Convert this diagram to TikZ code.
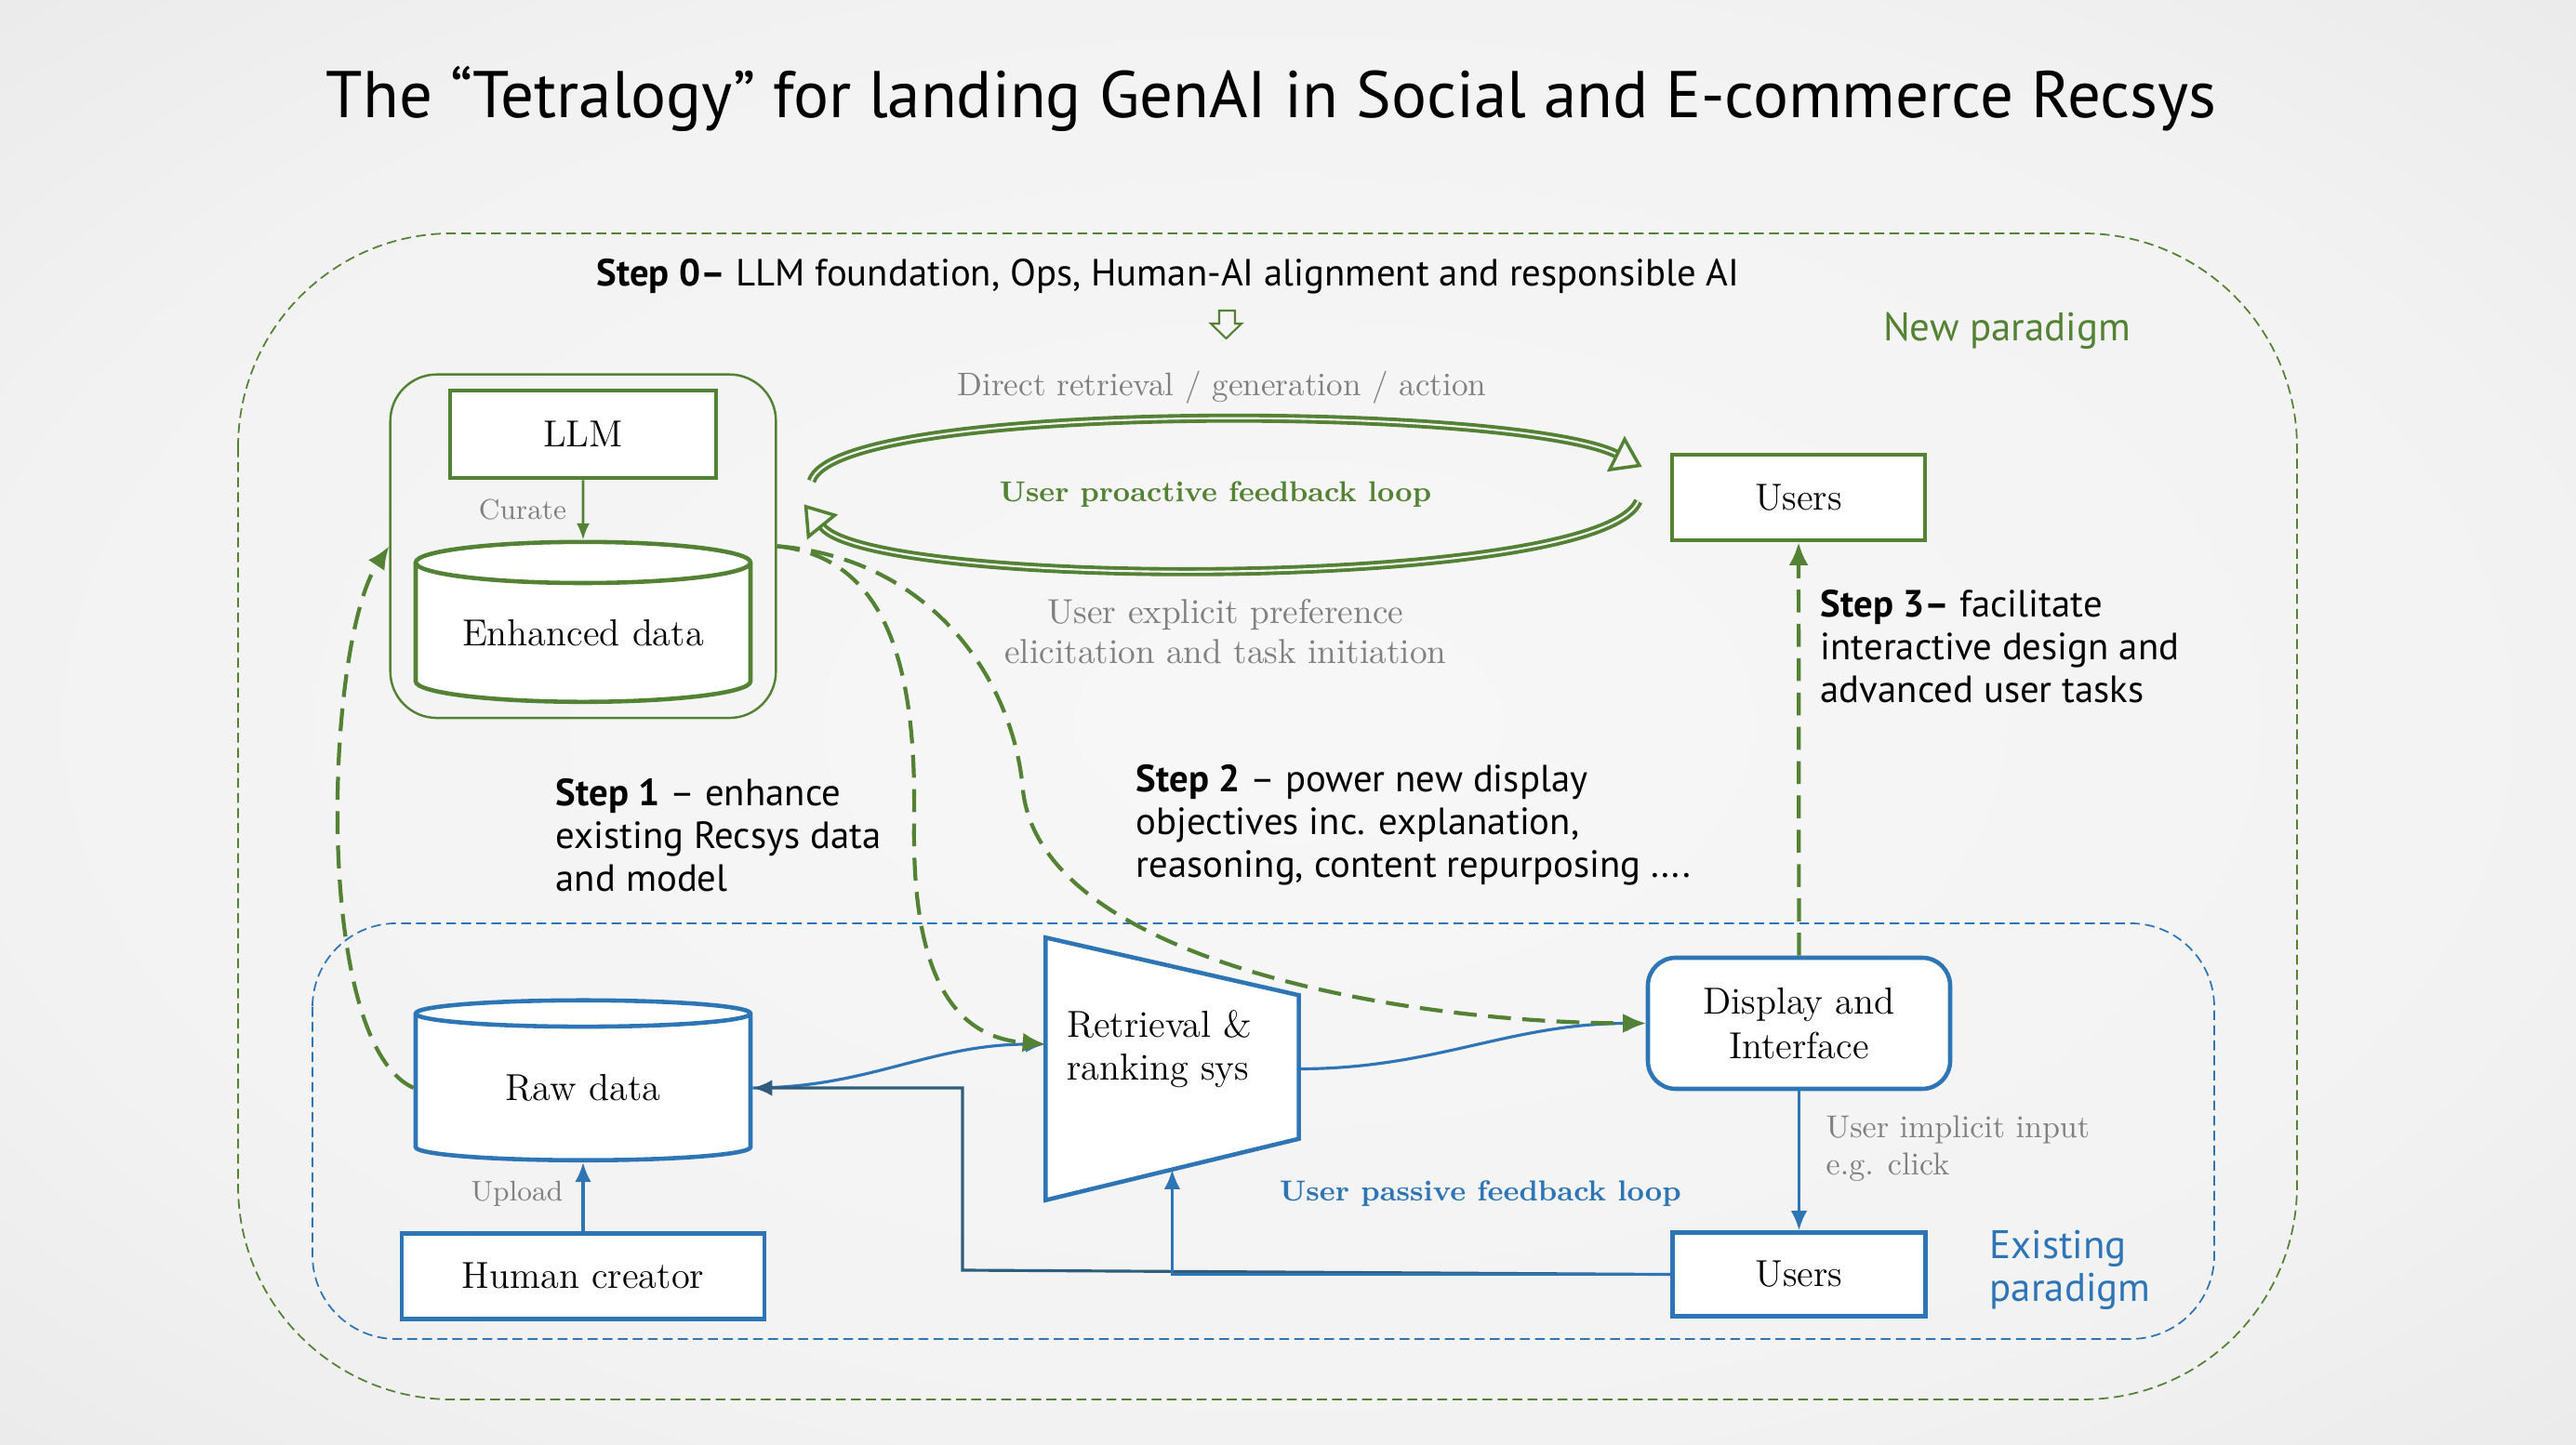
\documentclass[tikz,border=0pt]{standalone}
\usepackage{fontspec}
\newfontfamily\handfont{PT Sans}
\usetikzlibrary{positioning,calc,fit,shapes.geometric,arrows.meta}
\definecolor{Leaf}{HTML}{548235}
\definecolor{Ocean}{HTML}{2E75B6}
\definecolor{Slate}{HTML}{2F5D7E}
\definecolor{Ash}{HTML}{808080}
\pgfdeclareradialshading{backglow}{\pgfpoint{0bp}{0bp}}{color(0bp)=(black!3);
  color(25bp)=(black!5); color(50bp)=(black!12); color(71bp)=(black!17)}
\tikzset{
  recsys box/.style={draw=Leaf,line width=1.3pt,fill=white,minimum width=2.72cm,
    minimum height=.92cm,inner sep=3pt,font=\fontsize{11.5}{13.5}\selectfont},
  recsys db/.style={cylinder,shape border rotate=90,aspect=.17,draw=Ocean,
    line width=1.3pt,fill=white,minimum width=3.6cm,minimum height=1.72cm,
    inner sep=0pt,font=\fontsize{11.5}{13.5}\selectfont},
  step note/.style={anchor=base west,align=left,inner sep=0pt,
    font=\handfont\fontsize{11.6}{13.1}\selectfont},
  soft label/.style={text=Ash,align=center,inner sep=0pt,
    font=\fontsize{10}{11.8}\selectfont},
  loop arrow/.style={draw=Leaf,line width=1.1pt,double=white!96!black,
    double distance=.6pt,-{Triangle[open,length=9pt,width=12pt,line width=1pt]}},
  lift arrow/.style={draw=Leaf,line width=1.2pt,dash pattern=on 7pt off 3.5pt,
    -{Latex[length=7pt,width=6pt]}},
  flow arrow/.style={draw=Ocean,line width=.9pt,-{Latex[length=6pt,width=5pt]}}
}
\begin{document}
\begin{tikzpicture}
  \useasboundingbox (0,0) rectangle (27.7,-15.54);
  \shade[shading=backglow] (0,0) rectangle (27.7,-15.54);
  % title
  \node[anchor=base,inner sep=0pt,font=\handfont\fontsize{20.2}{23}\selectfont] (title)
    at (13.67,-1.27) {The “Tetralogy” for landing GenAI in Social and E-commerce Recsys};
  % paradigm frames
  \draw[Leaf,line width=.5pt,dash pattern=on 3pt off 1.6pt,rounded corners=2.3cm]
    (2.56,-2.51) rectangle (24.70,-15.05);
  \draw[Ocean,line width=.5pt,dash pattern=on 3pt off 1.6pt,rounded corners=.9cm]
    (3.36,-9.93) rectangle (23.81,-14.40);
  % new paradigm
  \node[recsys box,minimum width=2.86cm,minimum height=.94cm] (llm) at (6.27,-4.67) {LLM};
  \node[recsys db,draw=Leaf] (enhanced) at (6.27,-6.81) {Enhanced data};
  \node[draw=Leaf,line width=.7pt,rounded corners=.5cm,inner xsep=.25cm,inner ysep=.15cm,
    fit=(llm)(enhanced)] (llmgroup) {};
  \node[recsys box] (usersnew) at (19.34,-5.35) {Users};
  % existing paradigm
  \node[recsys db] (raw) at (6.27,-11.70) {Raw data};
  \node[recsys box,draw=Ocean,below=.74cm of raw,minimum width=3.9cm] (creator) {Human creator};
  \node[minimum width=2.71cm,minimum height=2.81cm,inner sep=0pt] (ranker) at (12.605,-11.495) {};
  \draw[Ocean,line width=1.3pt,fill=white] (ranker.north west)
    -- ($(ranker.north east)+(0,-.62)$) -- ($(ranker.south east)+(0,.66)$)
    -- (ranker.south west) -- cycle;
  \node[anchor=base west,align=left,inner sep=0pt,font=\fontsize{11.5}{13}\selectfont]
    (rankertext) at ($(ranker.north west)+(.22,-1.53)$) {Retrieval \&\\ranking sys};
  \coordinate (rankerin) at ($(ranker.west)+(0,.265)$);
  \coordinate (rankerfoot) at ($(ranker.south west)!.5!(ranker.south east)+(0,.33)$);
  \node[recsys box,draw=Ocean,rounded corners=.3cm,minimum width=3.25cm,minimum height=1.41cm,
    align=center] (display) at (19.345,-11.005) {Display and\\Interface};
  \node[recsys box,draw=Ocean,below=1.5cm of display,minimum height=.9cm] (usersold) {Users};
  \coordinate (bend) at (10.35,-13.66);

  % connectors
  \draw[Leaf,line width=.8pt,-{Latex[length=5pt,width=4pt]}] (llm) -- (enhanced);
  \node[soft label,font=\fontsize{8.7}{10}\selectfont] (curate) at (5.62,-5.48) {Curate};
  \draw[flow arrow] (creator) -- (raw);
  \node[soft label,font=\fontsize{8.7}{10}\selectfont] (upload) at (5.56,-12.84) {Upload};
  \draw[flow arrow] (raw.east) to[out=0,in=180] (rankerin);
  \draw[flow arrow] (ranker.east) to[out=0,in=180] (display.west);
  \draw[flow arrow] (display) -- (usersold);
  \draw[flow arrow,draw=Slate] (usersold.west) -- (bend) |- (raw.east);
  \draw[flow arrow] (usersold.west) -| (rankerfoot);
  \draw[lift arrow] (raw.west) .. controls (3.35,-11.2) and (3.5,-6.9) .. (llmgroup.west);
  \draw[lift arrow] (llmgroup.east) .. controls (9.6,-6.0) and (9.85,-7.3) .. (9.83,-8.8)
    .. controls (9.8,-10.4) and (10.2,-11.15) .. (rankerin);
  \draw[lift arrow] (llmgroup.east) .. controls (10.0,-6.0) and (10.9,-7.3) .. (11.0,-8.5)
    .. controls (11.2,-10.3) and (15.0,-11.0) .. (display.west);
  \draw[lift arrow] (display) -- (usersnew);
  \draw[loop arrow] ($(llmgroup.east)+(.37,.70)$) .. controls (9.0,-4.3) and (16.3,-4.35)
    .. ($(usersnew.west)+(-.30,.33)$);
  \draw[loop arrow] ($(usersnew.west)+(-.34,-.04)$) .. controls (17.2,-6.35) and (9.4,-6.35)
    .. ($(llmgroup.east)+(.29,.45)$);

  % labels
  \node[soft label] (direct) at (13.14,-4.17) {Direct retrieval / generation / action};
  \node[text=Leaf,font=\bfseries\fontsize{8.8}{11}\selectfont] (proactive) at (13.07,-5.32)
    {User proactive feedback loop};
  \node[soft label,font=\fontsize{10.6}{12.2}\selectfont] (explicit) at (13.18,-6.79)
    {User explicit preference\\elicitation and task initiation};
  \node[text=Ocean,font=\bfseries\fontsize{8.85}{11}\selectfont] (passive) at (15.92,-12.84)
    {User passive feedback loop};
  \node[soft label,align=left,anchor=west,font=\fontsize{9.7}{11.3}\selectfont] (implicit)
    at (19.63,-12.35) {User implicit input\\e.g. click};
  \node[step note,anchor=base] (step0) at (12.56,-3.08)
    {\textbf{Step 0–} LLM foundation, Ops, Human-AI alignment and responsible AI};
  \draw[Leaf,line width=.6pt,fill=white!96!black] (13.11,-3.34) -- (13.28,-3.34) -- (13.28,-3.48)
    -- (13.35,-3.48) -- (13.185,-3.64) -- (13.02,-3.48) -- (13.11,-3.48) -- cycle;
  \node[step note] (step1) at (5.97,-9.59) {\textbf{Step 1} – enhance\\existing Recsys data\\and model};
  \node[step note] (step2) at (12.21,-9.44)
    {\textbf{Step 2} – power new display\\objectives inc. explanation,\\reasoning, content repurposing ....};
  \node[step note] (step3) at (19.57,-7.56)
    {\textbf{Step 3–} facilitate\\interactive design and\\advanced user tasks};
  \node[step note,anchor=base,text=Leaf,font=\handfont\fontsize{12.2}{13.3}\selectfont] (newpar)
    at (21.58,-3.67) {New paradigm};
  \node[step note,text=Ocean,font=\handfont\fontsize{12.2}{13.3}\selectfont] (oldpar)
    at (21.39,-14.00) {Existing\\paradigm};
\end{tikzpicture}
\end{document}
